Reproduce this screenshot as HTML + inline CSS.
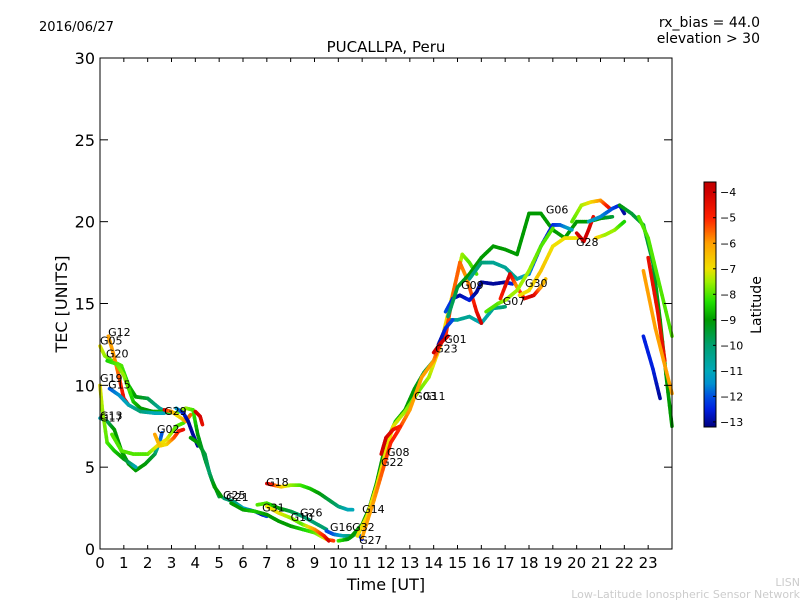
<!DOCTYPE html>
<html><head><meta charset="utf-8"><style>
body{margin:0;background:#fff;font-family:"Liberation Sans","DejaVu Sans",sans-serif}
svg text{font-family:"DejaVu Sans","Liberation Sans",sans-serif}
</style></head><body>
<svg id="c" width="800" height="600" viewBox="0 0 800 600">
<text x="39" y="31" font-size="13">2016/06/27</text>
<text x="760" y="27" font-size="14" text-anchor="end">rx_bias = 44.0</text>
<text x="760" y="43" font-size="14" text-anchor="end">elevation &gt; 30</text>
<text x="386" y="52" font-size="15" text-anchor="middle">PUCALLPA, Peru</text>
<g id="tracks"></g>
<g id="labels"></g>
<rect x="100" y="58" width="572" height="491" fill="none" stroke="#000" stroke-width="1"/>
<g id="axes"></g>
<text x="386" y="590" font-size="16" text-anchor="middle">Time [UT]</text>
<text transform="translate(67,304) rotate(-90)" font-size="16" text-anchor="middle">TEC [UNITS]</text>
<g id="cbar"></g>
<text transform="translate(761,305) rotate(-90)" font-size="14" text-anchor="middle">Latitude</text>
<text x="800" y="586" font-size="11" fill="#ccc" text-anchor="end">LISN</text>
<text x="800" y="598" font-size="11" fill="#ccc" text-anchor="end">Low-Latitude Ionospheric Sensor Network</text>
</svg>
<script>
const xTicks=[0,1,2,3,4,5,6,7,8,9,10,11,12,13,14,15,16,17,18,19,20,21,22,23];
const yTicks=[0,5,10,15,20,25,30];
const cbTicks=[-4,-5,-6,-7,-8,-9,-10,-11,-12,-13];
const trackNames=["G05","G12","G20","G19","G13","G17","G13b","G02","G29","G29b","G04","G15b","G25","G21","G31","G26","G18","G16","G32","G14","G03","G11","G08","G22","G01","G09","G06a","G06b","G07","G07b","G30","G28a","G28","G28b","G06c","G24","G24b","G24c","G24d","G24e"];
const tracks=[
[[0,12.4,-7],[0.2,11.8,-7.5],[0.5,11.5,-8],[0.9,11.2,-8],[1.2,10,-8.5],[1.5,9.3,-9],[2,9.2,-9.5],[2.5,8.6,-10.5],[2.9,8.3,-11]],
[[0.35,13,-6],[0.55,12,-6],[0.8,10.5,-5.5],[1.0,9.2,-4.5],[1.2,8.8,-4]],
[[0.3,11.5,-8.5],[0.7,11.3,-8],[1.0,10.6,-7.5],[1.4,9,-8.5],[1.7,8.6,-9],[2.2,8.4,-9],[2.8,8.4,-8.5],[3.2,8.3,-8],[3.6,8.6,-7.5],[3.9,8.5,-8],[4.1,7,-9],[4.4,5.5,-9.5],[4.7,4.2,-9],[5.0,3.2,-9.5]],
[[0.4,9.8,-12],[0.8,9.4,-11.5],[1.2,8.8,-11],[1.7,8.4,-10],[2.3,8.3,-11],[2.7,8.3,-11]],
[[0,8,-11],[0.3,7.8,-10],[0.6,7.3,-9],[0.9,6,-9],[1.2,5.2,-9],[1.5,4.8,-9],[1.9,5.2,-9],[2.3,5.8,-9.5],[2.5,6.5,-11.5],[2.6,7.1,-12]],
[[0,10,-7],[0.1,8.5,-7.5],[0.3,6.5,-8],[0.6,6,-8.5],[1.0,5.5,-9],[1.3,5.2,-10],[1.5,5,-11]],
[[0.5,7,-8],[0.9,6,-8],[1.4,5.8,-8],[2,5.8,-8],[2.4,6.3,-7],[2.8,6.7,-7],[3.2,7.5,-8],[3.5,7.7,-8],[3.8,8.2,-8.5]],
[[2.3,7,-6],[2.5,6.3,-6.5],[2.8,6.4,-7],[3.1,6.8,-5.5],[3.3,7.2,-5],[3.5,7.3,-4.5]],
[[2.7,8.5,-4],[3.0,8.4,-6],[3.3,8.1,-7],[3.6,7.8,-6],[3.8,8.2,-5.5]],
[[3.2,8.6,-11],[3.5,8.3,-12.5],[3.7,7.8,-13],[3.9,7,-13],[4.1,6.3,-13]],
[[4.0,8.4,-4],[4.2,8.1,-4],[4.3,7.6,-4.5]],
[[3.8,6.8,-9],[4.1,6.5,-9],[4.4,5.8,-9.5],[4.6,4.6,-10],[4.8,3.8,-9],[5.1,3.2,-9]],
[[5.2,3.1,-10],[5.6,2.9,-10],[6,2.5,-11],[6.5,2.3,-12],[6.8,2.1,-13],[7,2.0,-12]],
[[5.5,2.8,-9],[6,2.4,-9],[6.5,2.3,-8.5],[7,2.1,-9],[7.5,1.7,-9],[8,1.4,-9],[8.5,1.2,-8.5],[9,1,-8],[9.5,0.6,-7],[9.8,0.5,-5]],
[[6.6,2.7,-8],[7,2.8,-8],[7.5,2.5,-9],[8,2.3,-9.5],[8.5,2.0,-10],[9,1.6,-10],[9.5,1.2,-10]],
[[7,2.6,-7],[7.5,2.2,-7],[8,1.9,-7.5],[8.5,1.5,-8],[9,1.2,-6],[9.4,0.8,-5],[9.6,0.5,-4]],
[[7,4.0,-4],[7.3,3.9,-5],[7.6,3.8,-6.5],[8,3.9,-7.5],[8.4,3.9,-8],[8.8,3.7,-8.5],[9.2,3.4,-9],[9.6,3.0,-9.5],[10,2.6,-10],[10.4,2.4,-11],[10.6,2.4,-11]],
[[9.5,1.1,-12],[9.8,0.9,-12],[10.2,0.8,-11],[10.5,0.8,-10]],
[[10,0.5,-8],[10.4,0.6,-9],[10.8,1,-10],[11,0.6,-13]],
[[10.5,0.7,-9],[11,1.5,-9],[11.3,2.5,-9],[11.6,4,-9],[12,6.5,-9],[12.4,7.8,-8.5],[12.8,8.5,-9],[13.2,9.8,-9],[13.6,10.8,-9.5],[14,11.5,-10],[14.3,12.5,-10.5],[14.5,13.5,-11],[14.7,14,-10.5],[15,14,-10.5],[15.5,14.2,-10.5],[16,13.8,-11],[16.5,14.7,-10.5],[17,14.8,-10]],
[[10.8,0.8,-7],[11.2,2,-7],[11.6,3.8,-7],[12,6,-7],[12.3,7.5,-7],[12.8,8.4,-7.5],[13.3,9.5,-8],[13.8,10.5,-7.5],[14.3,12.5,-6.5],[14.7,15,-7],[15,16.8,-7],[15.2,18.0,-7.5],[15.5,17.5,-8],[15.8,16.8,-8]],
[[11,0.7,-6],[11.5,3,-6],[11.8,4.5,-5.5],[12.2,6.5,-5],[12.5,7.2,-5],[13,8.5,-6],[13.5,10.5,-6],[14,11.5,-6],[14.2,12.3,-5],[14.5,13,-5],[14.8,15.5,-5.5],[15.1,17.5,-5.5],[15.4,16.5,-6],[15.8,14.5,-4.5],[16,13.8,-4]],
[[11.8,5.8,-4],[12,6.8,-4],[12.3,7.3,-4.5],[12.6,7.5,-5]],
[[14.2,12.5,-13],[14.5,13.5,-12.5],[14.8,14,-12]],
[[14.0,12.0,-4],[14.3,12.6,-4],[14.6,13.0,-4]],
[[14.5,14.5,-12],[14.8,15.3,-12.5],[15.1,15.5,-13],[15.5,15.2,-12.5],[15.8,15.7,-13],[16,16.3,-13],[16.5,16.2,-13],[17,16.3,-13],[17.3,16.2,-12.5]],
[[14.6,14.2,-10],[15,16,-9.5],[15.5,16.8,-9],[16,17.8,-9],[16.5,18.5,-9],[17,18.3,-9],[17.5,18,-9],[18,20.5,-9],[18.5,20.5,-9],[19,19.5,-9],[19.5,19.0,-9],[20,20.0,-9],[20.5,20.0,-9],[21,20.2,-9],[21.5,20.3,-9.5]],
[[15.5,16.5,-10.5],[16,17.5,-10],[16.5,17.5,-10.5],[17,17.2,-10.5],[17.5,16.5,-10.5],[18,16.8,-11.5],[18.5,18.5,-12.5],[19,19.8,-12.5],[19.3,19.8,-12],[19.8,19.5,-11]],
[[16.8,15.3,-5],[17.2,16.8,-4],[17.5,16,-6],[17.8,15.3,-4.5],[18.2,15.5,-4],[18.5,16,-6],[18.7,16.5,-6.5]],
[[16.2,14.5,-8],[16.7,15,-8],[17,15.2,-7.5],[17.5,15.8,-7.5],[18,17,-7.5],[18.5,18.5,-8],[19,19.6,-8]],
[[17.6,15.5,-7],[18,15.8,-7],[18.5,17,-6.5],[19,18.5,-7],[19.5,19,-7],[20,19,-7]],
[[19.8,20,-8],[20.2,21,-7.5],[20.6,21.2,-7],[21,21.3,-6],[21.4,20.8,-4.5]],
[[20.0,19.3,-4],[20.3,18.8,-4],[20.5,19.5,-4],[20.7,20.3,-4.5]],
[[20.8,19,-6.5],[21.2,19.2,-7.5],[21.6,19.5,-7.5],[22,20,-8.5]],
[[20.5,20.0,-11],[21,20.3,-11.5],[21.5,20.8,-12],[21.8,21,-12.5],[22,20.5,-13]],
[[21.8,21,-9],[22.3,20.5,-9.5],[22.8,19.8,-9.5],[23.2,17.5,-9.5],[23.5,14,-9],[23.8,10,-9],[24,7.5,-9]],
[[22.6,20.3,-8],[23,19,-8],[23.5,16,-8],[24,13,-8]],
[[23.0,17.8,-4.5],[23.4,14.5,-4.5],[23.7,11.5,-4.5]],
[[22.8,17,-6],[23.3,13.5,-6],[24,9.5,-6]],
[[22.8,13,-12.5],[23.2,11,-12.5],[23.5,9.2,-13]]
];
const labelNames=["G12","G05","G20","G19","G15","G13","G17","G29","G02","G18","G25","G21","G31","G26","G10","G16","G32","G14","G27","G08","G22","G03","G11","G01","G23","G09","G07","G30","G06","G28"];
const labelT=[0.34,0,0.25,0,0.34,0,0,2.69,2.39,6.97,5.16,5.29,6.8,8.39,8.0,9.65,10.58,11.0,10.87,12.04,11.79,13.18,13.55,14.44,14.06,15.15,16.9,17.83,18.71,19.97];
const labelV=[13.0,12.5,11.7,10.2,9.8,7.9,7.8,8.2,7.1,3.85,3.05,2.93,2.3,2.0,1.7,1.1,1.1,2.2,0.3,5.67,5.07,9.1,9.1,12.6,12.0,15.9,14.9,16.0,20.5,18.5];

const X0=100,X1=672,Y0=549,Y1=58,XMAX=24,YMAX=30,LMIN=-13.2,LMAX=-3.6;
const sx=t=>X0+t*(X1-X0)/XMAX, sy=v=>Y0-v*(Y0-Y1)/YMAX;
const CMAP=[[0,0,0,128],[0.073,0,32,224],[0.125,0,80,224],[0.177,0,144,208],[0.229,0,168,184],[0.333,0,160,112],[0.4375,0,154,0],[0.51,32,224,0],[0.594,160,240,0],[0.646,240,224,0],[0.75,255,160,0],[0.854,255,32,0],[0.958,208,0,0],[1,192,0,0]];
function cmap(f){f=Math.max(0,Math.min(1,f));
 for(let i=0;i<CMAP.length-1;i++){const a=CMAP[i],b=CMAP[i+1];
  if(f<=b[0]){const u=(f-a[0])/(b[0]-a[0]);
   return `rgb(${Math.round(a[1]+(b[1]-a[1])*u)},${Math.round(a[2]+(b[2]-a[2])*u)},${Math.round(a[3]+(b[3]-a[3])*u)})`;}}
 return 'rgb(192,0,0)';}
const lc=l=>cmap((l-LMIN)/(LMAX-LMIN));
const NS="http://www.w3.org/2000/svg";
function mk(tag,attrs,parent){const e=document.createElementNS(NS,tag);for(const k in attrs)e.setAttribute(k,attrs[k]);parent.appendChild(e);return e;}
const gT=document.getElementById('tracks');
tracks.forEach((tr,i)=>{
 const g=mk('g',{},gT);
 
 
 for(let j=0;j<tr.length-1;j++){
  const a=tr[j],b=tr[j+1];
  const n=6;
  for(let k=0;k<n;k++){
   const f0=k/n,f1=(k+1)/n;
   const l=mk('line',{x1:sx(a[0]+(b[0]-a[0])*f0),y1:sy(a[1]+(b[1]-a[1])*f0),x2:sx(a[0]+(b[0]-a[0])*f1),y2:sy(a[1]+(b[1]-a[1])*f1),stroke:lc(a[2]+(b[2]-a[2])*(f0+f1)/2),'stroke-width':3.6,'stroke-linecap':'round'},g);
   
   
  }
 }
});
const gL=document.getElementById('labels');
labelNames.forEach((n,i)=>{
 const t=mk('text',{x:sx(labelT[i]),y:sy(labelV[i]),'font-size':11},gL);
 t.textContent=n;
 
 
});
const gA=document.getElementById('axes');
xTicks.forEach(t=>{
 const x=sx(t);
 mk('line',{x1:x,x2:x,y1:Y0,y2:Y0-4,stroke:'#000'},gA);
 mk('line',{x1:x,x2:x,y1:Y1,y2:Y1+4,stroke:'#000'},gA);
 const tx=mk('text',{x:x,y:568,'font-size':15,'text-anchor':'middle'},gA);
 tx.textContent=t;
 
 
});
yTicks.forEach(v=>{
 const y=sy(v);
 mk('line',{x1:X0,x2:X0+8,y1:y,y2:y,stroke:'#000'},gA);
 mk('line',{x1:X1,x2:X1-8,y1:y,y2:y,stroke:'#000'},gA);
 const tx=mk('text',{x:95,y:y+6,'font-size':16,'text-anchor':'end'},gA);
 tx.textContent=v;
 
 
});
const gC=document.getElementById('cbar');
const CT=182,CB=427,CX=704,CW=12;
for(let i=0;i<CB-CT;i++){
 mk('rect',{x:CX,y:CB-i-1,width:CW,height:1.5,fill:cmap(i/(CB-CT))},gC);
}
mk('rect',{x:CX,y:CT,width:CW,height:CB-CT,fill:'none',stroke:'#000'},gC);
cbTicks.forEach(v=>{
 const y=CB-(v-LMIN)/(LMAX-LMIN)*(CB-CT);
 mk('line',{x1:CX+CW-3,x2:CX+CW,y1:y,y2:y,stroke:'#000'},gC);
 const tx=mk('text',{x:CX+CW+4,y:y+4,'font-size':11},gC);
 tx.textContent='\u2212'+Math.abs(v);
 
 
});
</script>
</body></html>
